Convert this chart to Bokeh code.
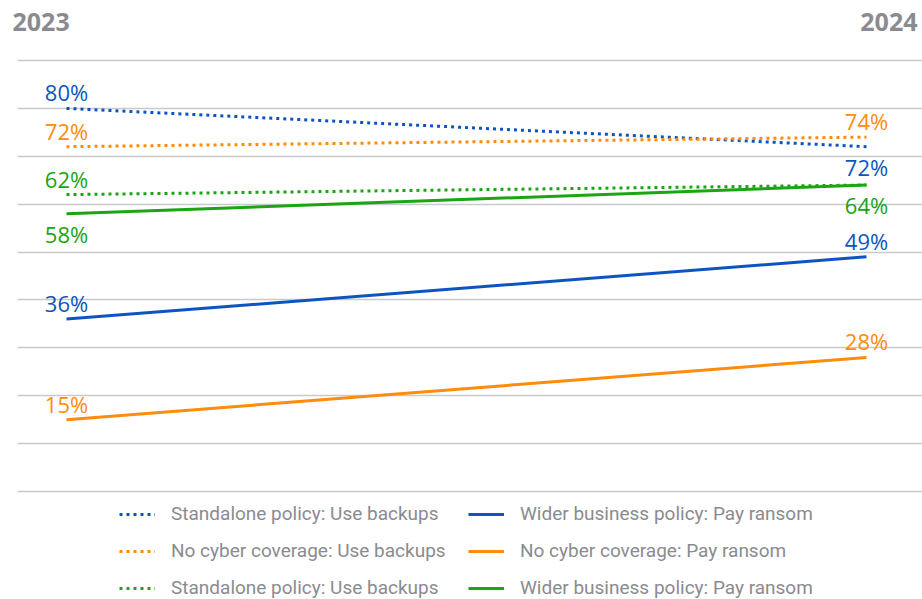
from bokeh.plotting import figure
from bokeh.models import ColumnDataSource, Range1d, Grid, FixedTicker, Legend, LegendItem, Label
from bokeh.core.properties import value
from bokeh.embed import file_html
from bokeh.resources import INLINE

# ---------------- data ----------------
years = ["2023", "2024"]
year_pos = [0, 1]
grid_values = [0, 10, 20, 30, 40, 50, 60, 70, 80, 90]

standalone_use_backups = [80, 72]
no_cyber_use_backups = [72, 74]
standalone_use_backups_b = [62, 64]
wider_business_pay_ransom = [36, 49]
no_cyber_pay_ransom = [15, 28]
wider_business_pay_ransom_b = [58, 64]

series_names = [
    "Standalone policy: Use backups",
    "No cyber coverage: Use backups",
    "Standalone policy: Use backups",
    "Wider business policy: Pay ransom",
    "No cyber coverage: Pay ransom",
    "Wider business policy: Pay ransom",
]
series_values = [
    standalone_use_backups,
    no_cyber_use_backups,
    standalone_use_backups_b,
    wider_business_pay_ransom,
    no_cyber_pay_ransom,
    wider_business_pay_ransom_b,
]
# where each value label sits relative to its point
label_sides = [
    ["above", "below"],
    ["above", "above"],
    ["above", "below"],
    ["above", "above"],
    ["above", "above"],
    ["below", None],
]

BLUE = "#0c55c0"
ORANGE = "#ff8c0a"
GREEN = "#1ba512"
series_colors = [BLUE, ORANGE, GREEN, BLUE, ORANGE, GREEN]
series_dash = ["dotted", "dotted", "dotted", "solid", "solid", "solid"]

GRAY_TEXT = "#8a8b90"
GRID = "#c9cacf"

# ---------------- figure ----------------
X0, X1 = -0.0825, 1.07
p = figure(
    width=922, height=599,
    output_backend="svg", toolbar_location=None,
    x_range=Range1d(X0, X1),
    y_range=Range1d(-22.55, 102.53),
    x_axis_location=None, y_axis_location=None,
    min_border_left=0, min_border_right=0, min_border_top=0, min_border_bottom=0,
    outline_line_color=None,
    background_fill_color="white", border_fill_color="white",
)
for g in list(p.grid):
    g.visible = False

grid_kw = dict(dimension=1, ticker=FixedTicker(ticks=grid_values),
               grid_line_color=GRID, grid_line_width=1.5)
if "cross_bounds" in Grid.properties():
    grid_kw["cross_bounds"] = (X0 + 17 / 800, X1)
p.add_layout(Grid(**grid_kw))

renderers = []
for vals, col, dash in zip(series_values, series_colors, series_dash):
    r = p.line(year_pos, vals, line_color=col, line_width=3,
               line_dash="3 4" if dash == "dotted" else "solid", line_cap="butt")
    renderers.append(r)

# value labels
lx, ly, lt, lc, lo = [], [], [], [], []
for vals, col, sides in zip(series_values, series_colors, label_sides):
    for xpos, v, side in zip(year_pos, vals, sides):
        if side is None:
            continue
        lx.append(xpos)
        ly.append(v)
        lt.append(f"{v}%")
        lc.append(col)
        lo.append(-16 if side == "above" else 20)
src = ColumnDataSource(dict(x=lx, y=ly, text=lt, color=lc, off=lo))
p.text(x="x", y="y", text="text", text_color="color", y_offset="off",
       text_align="center", text_baseline="middle",
       text_font=value("Open Sans"), text_font_size="22px", source=src)

# year headers
p.add_layout(Label(x=year_pos[0], y=98, text=years[0], x_offset=-54,
                   text_align="left", text_baseline="middle",
                   text_font="Open Sans", text_font_style="bold",
                   text_font_size="25px", text_color=GRAY_TEXT))
p.add_layout(Label(x=year_pos[1], y=98, text=years[1], x_offset=51,
                   text_align="right", text_baseline="middle",
                   text_font="Open Sans", text_font_style="bold",
                   text_font_size="25px", text_color=GRAY_TEXT))

# legend
items = [LegendItem(label=n, renderers=[r]) for n, r in zip(series_names, renderers)]
legend = Legend(
    items=items, location=(119, 0), orientation="vertical", nrows=3,
    glyph_width=36, glyph_height=20, label_height=20, label_width=283,
    label_standoff=16, spacing=14, padding=0, margin=0,
    label_text_font="Roboto", label_text_font_size="19px",
    label_text_color=GRAY_TEXT, label_text_baseline="middle",
    border_line_color=None, background_fill_alpha=0,
)
p.add_layout(legend)

open("out.html", "w").write(file_html(p, INLINE))
